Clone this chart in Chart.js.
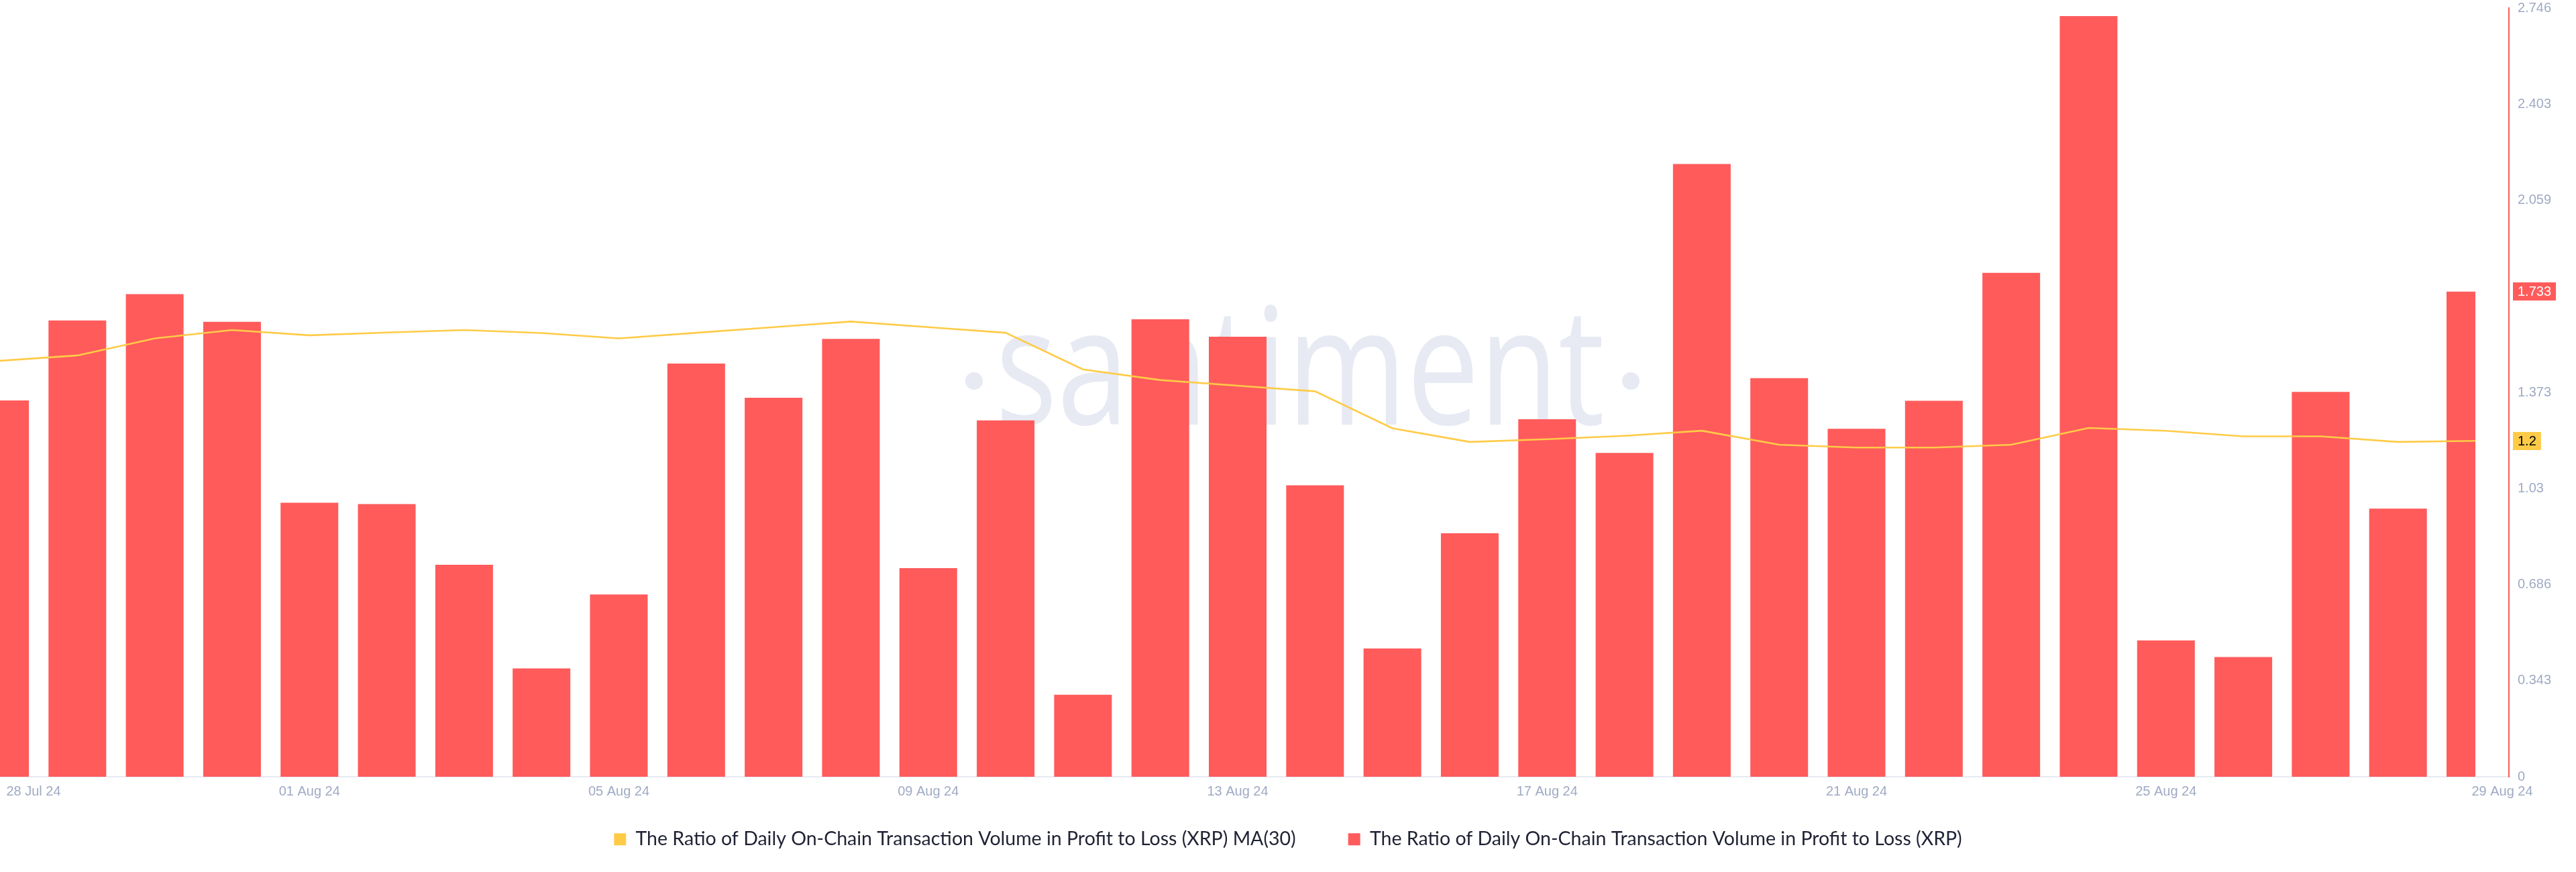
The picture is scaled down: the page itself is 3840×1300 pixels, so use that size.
<!DOCTYPE html>
<html>
<head>
<meta charset="utf-8">
<script src="https://cdn.jsdelivr.net/npm/chart.js@4.4.1/dist/chart.umd.min.js"></script>
<style>
  html, body { margin: 0; padding: 0; background: #ffffff; }
  canvas { display: block; }
</style>
</head>
<body>
<canvas id="chart" width="3840" height="1300" style="width:3840px;height:1300px"></canvas>
<script>
// ---------------- DATA ----------------
const dates = [
  '28 Jul 24', '29 Jul 24', '30 Jul 24', '31 Jul 24',
  '01 Aug 24', '02 Aug 24', '03 Aug 24', '04 Aug 24', '05 Aug 24', '06 Aug 24', '07 Aug 24',
  '08 Aug 24', '09 Aug 24', '10 Aug 24', '11 Aug 24', '12 Aug 24', '13 Aug 24', '14 Aug 24',
  '15 Aug 24', '16 Aug 24', '17 Aug 24', '18 Aug 24', '19 Aug 24', '20 Aug 24', '21 Aug 24',
  '22 Aug 24', '23 Aug 24', '24 Aug 24', '25 Aug 24', '26 Aug 24', '27 Aug 24', '28 Aug 24',
  '29 Aug 24'
];

const ratioValues = [
  1.344, 1.630, 1.724, 1.625,
  0.979, 0.974, 0.757, 0.387, 0.651, 1.476, 1.354,
  1.564, 0.745, 1.273, 0.293, 1.634, 1.572, 1.041,
  0.458, 0.870, 1.277, 1.157, 2.189, 1.424, 1.243,
  1.343, 1.800, 2.717, 0.487, 0.428, 1.375, 0.958,
  1.733
];

const ma30Values = [
  1.486, 1.505, 1.566, 1.596,
  1.577, 1.587, 1.596, 1.585, 1.566, 1.586, 1.606,
  1.626, 1.606, 1.586, 1.455, 1.417, 1.397, 1.377,
  1.245, 1.196, 1.206, 1.218, 1.236, 1.186, 1.176,
  1.176, 1.186, 1.246, 1.236, 1.216, 1.216, 1.196,
  1.2
];

const xTickDates = ['28 Jul 24', '01 Aug 24', '05 Aug 24', '09 Aug 24', '13 Aug 24',
                    '17 Aug 24', '21 Aug 24', '25 Aug 24', '29 Aug 24'];

const yTickLabels = ['0', '0.343', '0.686', '1.03', '1.373', '1.716', '2.059', '2.403', '2.746'];

const seriesNames = [
  'The Ratio of Daily On-Chain Transaction Volume in Profit to Loss (XRP) MA(30)',
  'The Ratio of Daily On-Chain Transaction Volume in Profit to Loss (XRP)'
];

// ---------------- STYLE ----------------
const RED = '#ff5b5b';
const YELLOW = '#ffcb47';
const CASPER = '#9faac4';
const TEXT_DARK = '#1f2233';
const PORCELAIN = '#e7eaf3';
const tickFont = { family: '"Liberation Sans", Arial, sans-serif', size: 20 };

// watermark drawn behind the bars
const watermark = {
  id: 'watermark',
  beforeDatasetsDraw(chart) {
    const { ctx } = chart;
    ctx.save();
    ctx.fillStyle = PORCELAIN;
    ctx.font = '400 243px "Open Sans"';
    ctx.textBaseline = 'alphabetic';
    ctx.textAlign = 'left';
    const text = 'santiment';
    const w = ctx.measureText(text).width;
    const left = 1484, right = 2392, baseline = 633;
    ctx.translate(left, baseline);
    ctx.scale((right - left) / w, 1);
    ctx.fillText(text, 0, 0);
    ctx.restore();
    ctx.save();
    ctx.fillStyle = PORCELAIN;
    [1452, 2431].forEach(cx => {
      ctx.beginPath();
      ctx.arc(cx, 568, 13, 0, Math.PI * 2);
      ctx.fill();
    });
    ctx.restore();
  }
};

// last-value badges on the right axis
const lastValueBadges = {
  id: 'lastValueBadges',
  afterDraw(chart) {
    const { ctx } = chart;
    const yScale = chart.scales.y;
    chart.data.datasets.forEach(ds => {
      const last = ds.data[ds.data.length - 1].y;
      const py = yScale.getPixelForValue(last);
      const txt = String(+last.toFixed(3));
      ctx.save();
      ctx.font = '20px "Liberation Sans", Arial, sans-serif';
      const w = ctx.measureText(txt).width + 14;
      ctx.fillStyle = ds.badgeColor;
      ctx.fillRect(yScale.left + 6, Math.round(py - 13.5), w, 27);
      ctx.fillStyle = ds.badgeTextColor;
      ctx.textBaseline = 'middle';
      ctx.textAlign = 'left';
      ctx.fillText(txt, yScale.left + 13, py + 1);
      ctx.restore();
    });
  }
};

const toPoints = arr => arr.map((v, i) => ({ x: i, y: v }));

new Chart(document.getElementById('chart').getContext('2d'), {
  type: 'bar',
  data: {
    datasets: [
      {
        type: 'line',
        label: seriesNames[0],
        data: toPoints(ma30Values),
        borderColor: YELLOW,
        backgroundColor: YELLOW,
        borderWidth: 2.6,
        pointRadius: 0,
        tension: 0,
        order: 0,
        badgeColor: YELLOW,
        badgeTextColor: '#000000'
      },
      {
        type: 'bar',
        label: seriesNames[1],
        data: toPoints(ratioValues),
        backgroundColor: RED,
        borderWidth: 0,
        barPercentage: 0.746,
        categoryPercentage: 1,
        clip: { left: 0, top: false, right: -50, bottom: 0 },
        order: 1,
        badgeColor: RED,
        badgeTextColor: '#ffffff'
      }
    ]
  },
  options: {
    responsive: false,
    animation: false,
    devicePixelRatio: 1,
    layout: { padding: { top: 12, left: 0, right: 0, bottom: 24.5 }, autoPadding: false },
    plugins: {
      tooltip: { enabled: false },
      legend: {
        display: true,
        position: 'bottom',
        align: 'center',
        labels: {
          boxWidth: 18,
          boxHeight: 18,
          padding: 78,
          color: TEXT_DARK,
          font: { family: 'Lato', size: 28.5 },
          generateLabels: chart => chart.data.datasets.map((ds, i) => ({
            text: ds.label,
            fillStyle: ds.badgeColor,
            strokeStyle: ds.badgeColor,
            lineWidth: 0,
            hidden: false,
            datasetIndex: i,
            fontColor: TEXT_DARK
          }))
        }
      }
    },
    scales: {
      x: {
        type: 'linear',
        position: 'bottom',
        min: 0,
        max: 32.4336,
        bounds: 'data',
        offset: false,
        grid: { display: false, drawTicks: false },
        border: { display: true, color: PORCELAIN, width: 2 },
        ticks: {
          autoSkip: false,
          maxRotation: 0,
          minRotation: 0,
          mirror: true,
          padding: -34,
          color: CASPER,
          font: tickFont,
          callback: (value, index) => xTickDates[index]
        },
        afterBuildTicks: scale => {
          scale.ticks = xTickDates.map((d, k) => {
            let v = dates.indexOf(d);
            if (k === 0) v += 0.4336;
            if (k === xTickDates.length - 1) v += 0.347;
            return { value: v };
          });
        },
        afterFit: scale => {
          scale.height = 1;
          scale.paddingLeft = 0;
          scale.paddingRight = 0;
        }
      },
      y: {
        type: 'linear',
        position: 'right',
        min: 0,
        max: 2.746,
        grid: { display: false, drawTicks: false },
        border: { display: true, color: RED, width: 2 },
        ticks: {
          padding: 13,
          color: CASPER,
          font: tickFont,
          callback: (value, index) => yTickLabels[index]
        },
        afterBuildTicks: scale => {
          scale.ticks = yTickLabels.map(t => ({ value: Number(t) }));
        },
        afterFit: scale => {
          scale.width = 100;
          scale.paddingTop = 0;
          scale.paddingBottom = 0;
        }
      }
    }
  },
  plugins: [watermark, lastValueBadges]
});
</script>
</body>
</html>
